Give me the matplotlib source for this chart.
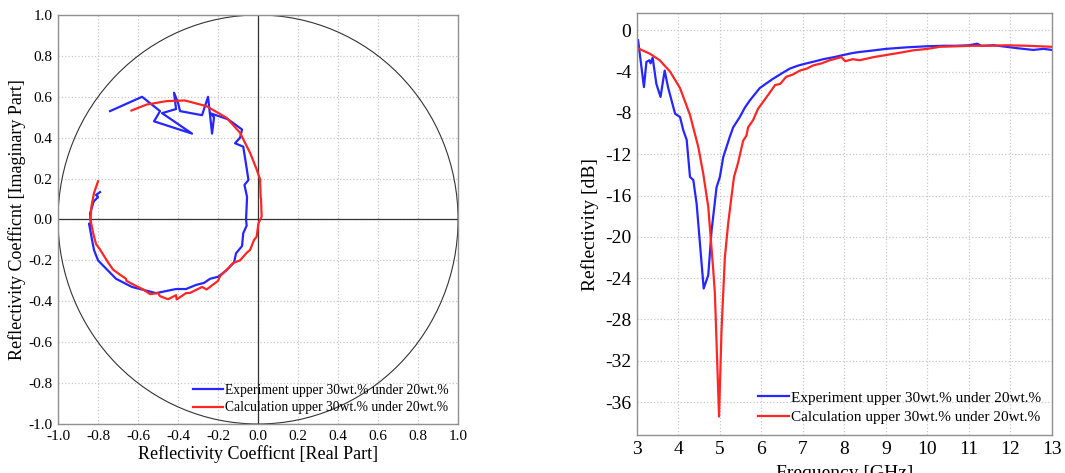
import matplotlib
matplotlib.use('Agg')
import matplotlib.pyplot as plt
from matplotlib.patches import Circle

plt.rcParams['font.family'] = ['Liberation Serif', 'DejaVu Serif']
plt.rcParams['axes.unicode_minus'] = False

BLUE = '#2626ff'
RED = '#ff2626'

exp_label = 'Experiment upper 30wt.% under 20wt.%'
calc_label = 'Calculation upper 30wt.% under 20wt.%'

# reflection coefficient, experiment (real, imag)
exp_re = [-0.74, -0.58, -0.49, -0.52, -0.33, -0.48, -0.41, -0.42, -0.40, -0.39,
          -0.28, -0.25, -0.23, -0.22, -0.24, -0.15, -0.08, -0.09, -0.115, -0.074,
          -0.06, -0.048, -0.068, -0.055, -0.057, -0.06, -0.057, -0.074, -0.08,
          -0.11, -0.12, -0.16, -0.2, -0.24, -0.27, -0.31, -0.36, -0.41, -0.46,
          -0.51, -0.55, -0.59, -0.63, -0.67, -0.71, -0.74, -0.77, -0.80, -0.82,
          -0.83, -0.845, -0.835, -0.84, -0.83, -0.825, -0.82, -0.80, -0.81, -0.79]
exp_im = [0.53, 0.60, 0.53, 0.48, 0.42, 0.52, 0.54, 0.62, 0.57, 0.53,
          0.51, 0.60, 0.42, 0.50, 0.52, 0.49, 0.44, 0.40, 0.373, 0.356,
          0.27, 0.193, 0.169, 0.11, 0.063, 0.0, -0.03, -0.067, -0.13,
          -0.165, -0.21, -0.25, -0.28, -0.29, -0.31, -0.32, -0.34, -0.34, -0.35,
          -0.36, -0.35, -0.34, -0.33, -0.31, -0.29, -0.26, -0.23, -0.20, -0.15,
          -0.10, -0.02, -0.03, 0.03, 0.06, 0.08, 0.09, 0.11, 0.12, 0.134]

# reflection coefficient, calculation (real, imag)
calc_re = [-0.633, -0.557, -0.457, -0.366, -0.257, -0.157, -0.09, -0.04, -0.032,
           -0.007, 0.01, 0.013, 0.015, 0.018, 0.002, -0.007, -0.02, -0.04, -0.057,
           -0.09, -0.124, -0.15, -0.19, -0.2, -0.257, -0.28, -0.34, -0.36, -0.407,
           -0.41, -0.45, -0.49, -0.5, -0.54, -0.574, -0.6, -0.62, -0.658, -0.66,
           -0.69, -0.725, -0.75, -0.79, -0.81, -0.825, -0.838, -0.833, -0.82, -0.80]
calc_im = [0.533, 0.562, 0.579, 0.582, 0.554, 0.497, 0.424, 0.326, 0.307,
           0.245, 0.196, 0.111, 0.098, 0.014, -0.019, -0.084, -0.1, -0.149, -0.163,
           -0.2, -0.212, -0.24, -0.277, -0.3, -0.342, -0.33, -0.359, -0.36, -0.391,
           -0.37, -0.39, -0.375, -0.36, -0.365, -0.342, -0.33, -0.32, -0.30, -0.29,
           -0.27, -0.245, -0.21, -0.147, -0.12, -0.065, 0.0, 0.065, 0.13, 0.187]

# reflectivity vs frequency
exp_f = [3.03, 3.17, 3.23, 3.30, 3.33, 3.38, 3.47, 3.57, 3.67, 3.75, 3.92, 4.04,
         4.12, 4.20, 4.28, 4.36, 4.44, 4.61, 4.72, 4.80, 4.92, 5.00, 5.08, 5.24,
         5.32, 5.48, 5.60, 5.72, 5.84, 5.96, 6.10, 6.28, 6.48, 6.69, 6.90, 7.09,
         7.30, 7.49, 7.75, 7.97, 8.20, 8.37, 8.70, 9.00, 9.50, 9.98, 10.4, 10.7,
         11.0, 11.2, 11.3, 11.6, 11.9, 12.2, 12.55, 12.8, 13.0]
exp_db = [-0.97, -5.5, -3.07, -2.9, -3.2, -2.65, -5.2, -6.45, -3.9, -5.5, -8.07, -8.4,
          -9.7, -10.6, -14.2, -14.5, -16.8, -25.0, -23.7, -19.4, -15.2, -14.2, -12.3, -10.3,
          -9.4, -8.4, -7.5, -6.8, -6.2, -5.6, -5.2, -4.7, -4.2, -3.7, -3.4, -3.2,
          -3.0, -2.8, -2.6, -2.4, -2.2, -2.1, -1.95, -1.8, -1.65, -1.55, -1.5, -1.5,
          -1.45, -1.3, -1.5, -1.45, -1.6, -1.75, -1.9, -1.8, -1.9]

calc_f = [3.0, 3.31, 3.55, 3.80, 4.04, 4.28, 4.48, 4.60, 4.72, 4.84, 4.88, 4.98,
          5.04, 5.12, 5.20, 5.28, 5.34, 5.44, 5.56, 5.64, 5.68, 5.80, 5.92, 6.12,
          6.33, 6.45, 6.60, 6.75, 6.93, 7.10, 7.25, 7.45, 7.65, 7.93, 8.02, 8.20,
          8.37, 8.70, 9.00, 9.30, 9.66, 10.0, 10.3, 10.7, 11.1, 11.5, 11.9, 12.4, 13.0]
calc_db = [-1.7, -2.26, -2.9, -4.0, -5.6, -8.2, -11.3, -13.9, -17.1, -23.2, -25.5, -37.4,
           -29.0, -22.0, -18.7, -16.1, -14.2, -12.8, -10.7, -10.2, -9.4, -8.7, -7.6, -6.5,
           -5.3, -5.2, -4.5, -4.3, -3.9, -3.7, -3.4, -3.2, -2.9, -2.6, -3.0, -2.8,
           -2.9, -2.6, -2.4, -2.2, -1.94, -1.8, -1.6, -1.55, -1.5, -1.5, -1.45, -1.5, -1.6]

fig = plt.figure(figsize=(10.65, 4.73), dpi=100)

def style_axes(ax, size):
    ax.grid(True, color='#c8c8c8', linestyle=':', linewidth=0.9)
    ax.set_axisbelow(True)
    for sp in ax.spines.values():
        sp.set_color('#909090')
        sp.set_linewidth(1.0)
    ax.tick_params(length=0, labelsize=size, pad=4)

# ---- left: complex plane ----
ax1 = fig.add_axes([0.0545, 0.1036, 0.3756, 0.8647])
ax1.add_patch(Circle((0, 0), 1.0, fill=False, color='#333333', linewidth=0.8))
ax1.axhline(0, color='#333333', linewidth=0.9)
ax1.axvline(0, color='#333333', linewidth=0.9)
ax1.plot(exp_re, exp_im, color=BLUE, linewidth=1.6, label=exp_label)
ax1.plot(calc_re, calc_im, color=RED, linewidth=1.6, label=calc_label)
ax1.set_xlim(-1, 1)
ax1.set_ylim(-1, 1)
ticks = [-1.0, -0.8, -0.6, -0.4, -0.2, 0.0, 0.2, 0.4, 0.6, 0.8, 1.0]
ax1.set_xticks(ticks)
ax1.set_yticks(ticks)
ax1.set_xticklabels(['%.1f' % t for t in ticks])
ax1.set_yticklabels(['%.1f' % t for t in ticks])
style_axes(ax1, 11)
ax1.set_xlabel('Reflectivity Coefficnt [Real Part]', fontsize=13, labelpad=2)
ax1.set_ylabel('Reflectivity Coefficnt [Imaginary Part]', fontsize=13, labelpad=2)
ax1.legend(loc='lower right', frameon=False, fontsize=9.8, handlelength=2.2,
           handletextpad=0.15, borderaxespad=0.3, labelspacing=0.35)

# ---- right: reflectivity vs frequency ----
ax2 = fig.add_axes([0.598, 0.080, 0.3897, 0.892])
ax2.plot(exp_f, exp_db, color=BLUE, linewidth=1.6, label=exp_label)
ax2.plot(calc_f, calc_db, color=RED, linewidth=1.6, label=calc_label)
ax2.set_xlim(3, 13)
ax2.set_ylim(-39.2, 1.65)
ax2.set_xticks(range(3, 14))
ax2.set_yticks(range(-36, 1, 4))
style_axes(ax2, 14)
ax2.set_xlabel('Frequency [GHz]', fontsize=14, labelpad=5)
ax2.set_ylabel('Reflectivity [dB]', fontsize=14, labelpad=4)
ax2.legend(loc='lower right', frameon=False, fontsize=11, handlelength=2.0,
           handletextpad=0.15, borderaxespad=0.3, labelspacing=0.4)

fig.savefig('out.png', dpi=100)
